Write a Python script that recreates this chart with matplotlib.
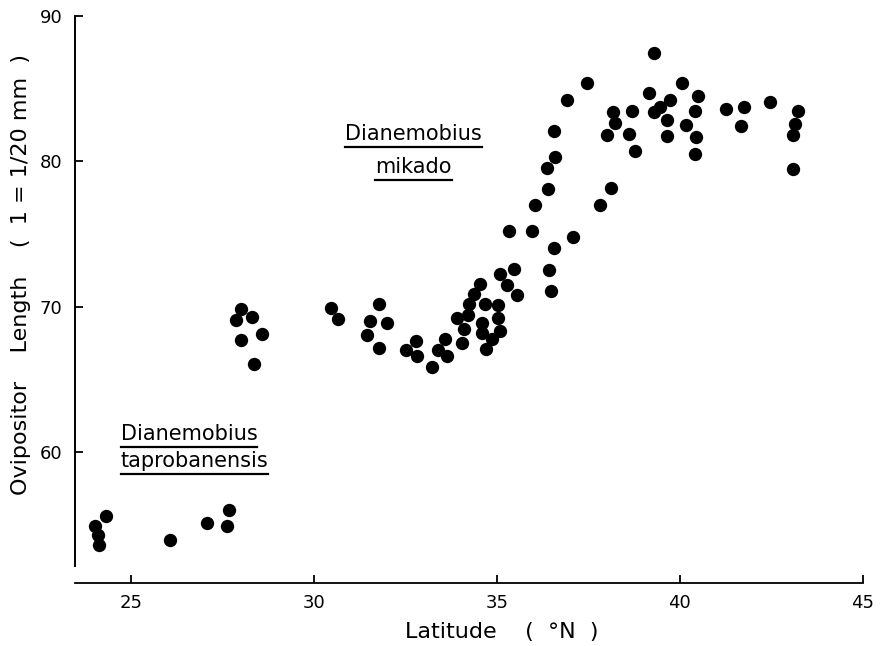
import matplotlib
matplotlib.use("Agg")
import matplotlib.pyplot as plt
from matplotlib.lines import Line2D

# Latitude (deg N) and ovipositor length (units of 1/20 mm)
latitude = [24.02, 24.11, 24.13, 24.34, 26.07, 27.08, 27.62, 27.69,
            28.01, 27.88, 28.32, 28.01, 28.60, 28.37,
            30.46, 30.67,
            31.79, 31.54, 31.99, 31.45, 31.78,
            32.79, 32.52, 32.81, 33.22, 33.59, 33.40, 33.63,
            33.91, 34.09, 34.06, 34.22, 34.25, 34.38, 34.54, 34.68, 34.59,
            34.59, 35.02, 35.02, 35.09, 34.86, 34.70, 35.29, 35.55,
            35.09, 35.47, 35.32, 35.96, 36.05, 36.38, 36.40, 36.43, 36.48,
            36.55, 36.55, 36.59, 36.91, 37.09, 37.46, 37.82, 38.11,
            38.02, 38.17, 38.23, 38.62, 38.69, 38.78,
            39.16, 39.28, 39.28, 39.46, 39.64, 39.66, 39.74, 40.06, 40.17,
            40.42, 40.42, 40.44, 40.48,
            41.26, 41.66, 41.74, 42.45, 43.09, 43.10, 43.13, 43.22]
ovipositor = [54.93, 54.31, 53.62, 55.61, 53.97, 55.11, 54.95, 56.03,
              69.82, 69.07, 69.25, 67.69, 68.11, 66.05,
              69.87, 69.14,
              70.14, 69.02, 68.88, 68.04, 67.12,
              67.65, 67.01, 66.60, 65.82, 67.74, 67.01, 66.60,
              69.18, 68.43, 67.47, 69.41, 70.16, 70.85, 71.54, 70.16, 68.88,
              68.15, 70.10, 69.18, 68.33, 67.74, 67.08, 71.47, 70.78,
              72.27, 72.61, 75.20, 75.20, 77.01, 79.55, 78.11, 72.50, 71.08,
              82.06, 74.03, 80.27, 84.17, 74.78, 85.35, 77.01, 78.15,
              81.81, 83.36, 82.61, 81.83, 83.43, 80.69,
              84.69, 87.41, 83.36, 83.71, 81.70, 82.79, 84.19, 85.38, 82.45,
              83.43, 80.46, 81.63, 84.46,
              83.55, 82.40, 83.71, 84.03, 81.81, 79.45, 82.57, 83.43]

x_ticks = [25, 30, 35, 40, 45]
y_ticks = [60, 70, 80, 90]

fig = plt.figure(figsize=(8.82, 6.46), dpi=100)
ax = fig.add_axes([0.085, 0.0975, 0.8935, 0.8785])

ax.plot(latitude, ovipositor, 'o', color='black', ms=9.6, mew=0)

ax.set_xlim(23.48, 45)
ax.set_ylim(51.0, 90)
ax.set_xticks(x_ticks)
ax.set_yticks(y_ticks)

for side in ['top', 'right']:
    ax.spines[side].set_visible(False)
ax.spines['left'].set_bounds(52.2, 90)
ax.spines['left'].set_linewidth(1.4)
ax.spines['bottom'].set_linewidth(1.3)
ax.tick_params(direction='in', length=6, width=1.3, labelsize=13)
ax.tick_params(axis='x', pad=8)
ax.tick_params(axis='y', pad=9)

fig.text(0.569, 0.022, 'Latitude    (  °N  )', fontsize=16, ha='center', va='center')
fig.text(0.024, 0.575, 'Ovipositor    Length    (  1 = 1/20 mm  )', fontsize=16,
         rotation=90, ha='center', va='center')

# species labels with underlines
labels = [
    ax.text(32.72, 81.44, 'Dianemobius', fontsize=15, ha='center', va='baseline'),
    ax.text(32.72, 79.18, 'mikado', fontsize=15, ha='center', va='baseline'),
    ax.text(24.73, 60.82, 'Dianemobius', fontsize=15, ha='left', va='baseline'),
    ax.text(24.73, 58.97, 'taprobanensis', fontsize=15, ha='left', va='baseline'),
]

fig.canvas.draw()
renderer = fig.canvas.get_renderer()
for t in labels:
    bb = t.get_window_extent(renderer).transformed(fig.transFigure.inverted())
    y = bb.y0 - 0.004
    fig.add_artist(Line2D([bb.x0, bb.x1], [y, y], transform=fig.transFigure,
                          color='black', lw=1.6))

fig.savefig('out.png', dpi=100)
